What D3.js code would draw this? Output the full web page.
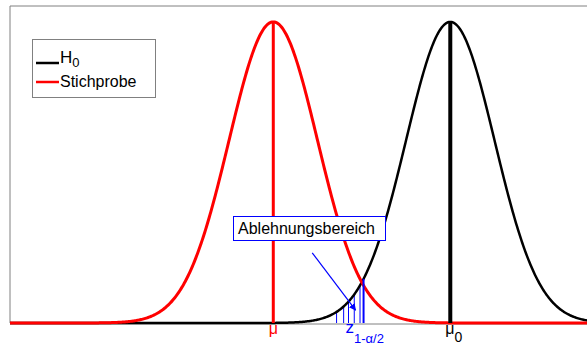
<!DOCTYPE html>
<html>
<head>
<meta charset="utf-8">
<script src="https://cdn.jsdelivr.net/npm/d3@7"></script>
<style>
  body { margin: 0; background: #fff; }
  svg { display: block; font-family: Arial, "Liberation Sans", sans-serif; }
</style>
</head>
<body>
<svg id="svg1" width="587" height="345"></svg>
<script>
// distribution parameters (in units of sigma)
var muSample = 0;
var muH0 = 4;
var sigma = 1;
var zCrit = 2.04;                       // z_{1-alpha/2} position on the x axis
var hatchX = [1.43, 1.59, 1.70, 1.83, 1.96];
var xExtent = [-5.95, 10];
var yExtent = [0, 0.42];
var seriesNames = ["H0", "Stichprobe"];
var seriesColors = ["#000000", "#ff0000"];
// annotation arrow, data coords: tail -> head
var arrowFrom = [0.88, 0.093];
var arrowTo = [1.86, 0.017];

var svg = d3.select("#svg1");

var x = d3.scaleLinear().domain(xExtent).range([10, 10 + (xExtent[1] - xExtent[0]) * 44.25]);
var y = d3.scaleLinear().domain(yExtent).range([323, 6]);

function pdf(v, m, s) {
  return Math.exp(-0.5 * Math.pow((v - m) / s, 2)) / (s * Math.sqrt(2 * Math.PI));
}

var xs = d3.range(xExtent[0], xExtent[1] + 0.001, 0.02);

var defs = svg.append("defs");
defs.append("marker")
    .attr("id", "arrow")
    .attr("viewBox", "0 0 10 10")
    .attr("refX", 9).attr("refY", 5)
    .attr("markerWidth", 7).attr("markerHeight", 7)
    .attr("markerUnits", "userSpaceOnUse")
    .attr("orient", "auto")
  .append("path")
    .attr("d", "M0,0 L10,5 L0,10 z")
    .attr("fill", "#0000ff");

// frame (left, top, bottom)
svg.append("line")
    .attr("x1", x(xExtent[0])).attr("x2", x(xExtent[0]))
    .attr("y1", y(yExtent[0])).attr("y2", y(yExtent[1]))
    .attr("stroke", "#808080").attr("stroke-width", 1);
svg.append("line")
    .attr("x1", x(xExtent[0])).attr("x2", 587)
    .attr("y1", y(yExtent[1])).attr("y2", y(yExtent[1]))
    .attr("stroke", "#808080").attr("stroke-width", 1);
svg.append("line")
    .attr("x1", x(xExtent[0])).attr("x2", 587)
    .attr("y1", y(0) + 1).attr("y2", y(0) + 1)
    .attr("stroke", "#808080").attr("stroke-width", 1);

// hatching of the rejection region
svg.selectAll(".hatch")
    .data(hatchX)
    .enter()
    .append("line")
      .attr("class", "hatch")
      .attr("x1", function(d) { return x(d); })
      .attr("x2", function(d) { return x(d); })
      .attr("y1", y(0))
      .attr("y2", function(d) { return y(pdf(d, muH0, sigma)); })
      .attr("stroke", "#0000ff")
      .attr("stroke-width", 1);

var line = d3.line()
    .x(function(d) { return x(d[0]); })
    .y(function(d) { return y(d[1]); });

// H0 curve
svg.append("path")
    .datum(xs.map(function(v) { return [v, pdf(v, muH0, sigma)]; }))
    .attr("d", line)
    .attr("fill", "none")
    .attr("stroke", seriesColors[0])
    .attr("stroke-width", 2.5);

// sample curve
svg.append("path")
    .datum(xs.map(function(v) { return [v, pdf(v, muSample, sigma)]; }))
    .attr("d", line)
    .attr("fill", "none")
    .attr("stroke", seriesColors[1])
    .attr("stroke-width", 3);

// mean lines
svg.append("line")
    .attr("x1", x(muSample)).attr("x2", x(muSample))
    .attr("y1", y(0)).attr("y2", y(pdf(muSample, muSample, sigma)))
    .attr("stroke", seriesColors[1]).attr("stroke-width", 3);
svg.append("line")
    .attr("x1", x(muH0)).attr("x2", x(muH0))
    .attr("y1", y(0)).attr("y2", y(pdf(muH0, muH0, sigma)))
    .attr("stroke", seriesColors[0]).attr("stroke-width", 4);

// critical value line
svg.append("line")
    .attr("x1", x(zCrit)).attr("x2", x(zCrit))
    .attr("y1", y(0)).attr("y2", y(pdf(zCrit, muH0, sigma)))
    .attr("stroke", "#0000ff").attr("stroke-width", 2);

// axis labels
svg.append("text")
    .attr("x", x(muSample)).attr("y", 334)
    .attr("text-anchor", "middle")
    .attr("fill", "#ff0000")
    .style("font-size", "16px")
    .text("\u03bc");

var mu0 = svg.append("text")
    .attr("x", x(muH0) - 5).attr("y", 334)
    .attr("fill", "#000")
    .style("font-size", "16px");
mu0.append("tspan").text("\u03bc");
mu0.append("tspan").attr("dy", 8).style("font-size", "14px").text("0");

var zl = svg.append("text")
    .attr("x", x(zCrit) - 18).attr("y", 333)
    .attr("fill", "#0000ff")
    .style("font-size", "17px");
zl.append("tspan").text("z");
zl.append("tspan").attr("dy", 10).style("font-size", "13px").text("1-\u03b1/2");

// annotation
svg.append("line")
    .attr("x1", x(arrowFrom[0])).attr("y1", y(arrowFrom[1]))
    .attr("x2", x(arrowTo[0])).attr("y2", y(arrowTo[1]))
    .attr("stroke", "#0000ff").attr("stroke-width", 1.2)
    .attr("marker-end", "url(#arrow)");

svg.append("rect")
    .attr("x", 233.5).attr("y", 216.5)
    .attr("width", 152).attr("height", 24)
    .attr("fill", "#fff")
    .attr("stroke", "#0000ff").attr("stroke-width", 1);
svg.append("text")
    .attr("x", 238).attr("y", 234)
    .attr("fill", "#000")
    .style("font-size", "16px")
    .text("Ablehnungsbereich");

// legend
var legend = svg.append("g").attr("transform", "translate(32,39)");
legend.append("rect")
    .attr("x", 0.5).attr("y", 0.5)
    .attr("width", 123).attr("height", 58)
    .attr("fill", "#fff")
    .attr("stroke", "#808080").attr("stroke-width", 1);

var entries = legend.selectAll(".entry")
    .data(seriesNames)
    .enter()
    .append("g")
      .attr("class", "entry")
      .attr("transform", function(d, i) { return "translate(0," + (i == 0 ? 24 : 43) + ")"; });

entries.append("line")
    .attr("x1", 4).attr("x2", 27)
    .attr("y1", 0).attr("y2", 0)
    .attr("stroke", function(d, i) { return seriesColors[i]; })
    .attr("stroke-width", 2.5);

entries.each(function(d, i) {
  var t = d3.select(this).append("text")
      .attr("x", 28)
      .attr("y", i == 0 ? 0 : 5)
      .attr("fill", "#000")
      .style("font-size", "16px");
  if (d == "H0") {
    t.append("tspan").style("font-size", "17px").text("H");
    t.append("tspan").attr("dy", 4).style("font-size", "13px").text("0");
  } else {
    t.text(d);
  }
});
</script>
</body>
</html>
